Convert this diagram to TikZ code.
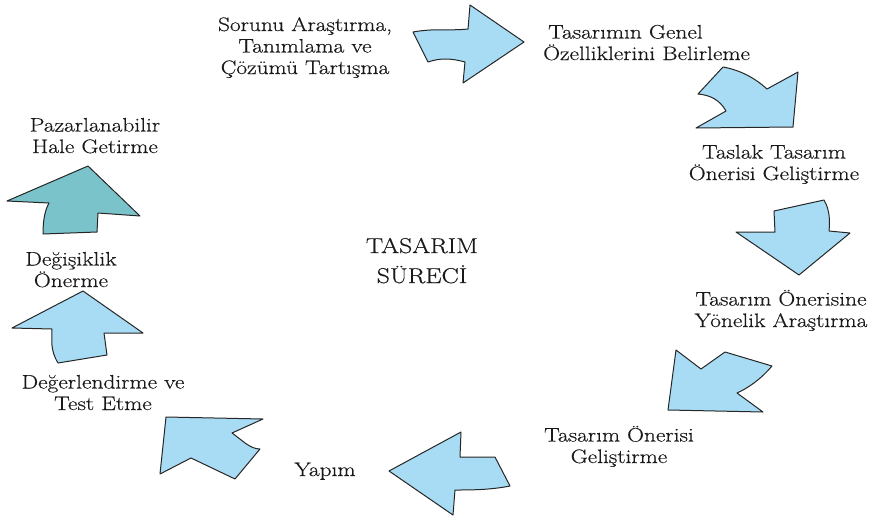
\documentclass[tikz,border=0pt]{standalone}
\usepackage{fontspec}
\newfontfamily\lblfont{Latin Modern Roman}[FakeStretch=1.2,FakeBold=0.4]
\begin{document}
\begin{tikzpicture}[x=1pt,y=-1pt,
  arr/.style={draw=black!85,line width=1pt,line join=round,fill=arrowblue},
  lbl/.style={inner sep=0pt,anchor=base,align=center,text=black!90,font=\lblfont\fontsize{19.5}{21.5}\selectfont},
  lbll/.style={lbl,align=left,anchor=base west}]
\definecolor{arrowblue}{HTML}{A8DBF4}
\definecolor{arrowteal}{HTML}{7BC3CB}
\useasboundingbox (0,0) rectangle (876,520);
% arrows
\draw[arr] (413,32) .. controls (435,28) and (450,31) .. (468,29) -- (470,5) -- (524,42) -- (463,83) -- (465,62) .. controls (450,58) and (440,58) .. (428,62) -- cycle;
\draw[arr] (723,67) .. controls (740,70) and (755,78) .. (767,89) -- (798,72) -- (793,127) -- (696,128) -- (726,111) .. controls (720,100) and (710,95) .. (698,94) -- cycle;
\draw[arr] (774,211) -- (824,200) .. controls (830,210) and (830,222) .. (829,231) -- (850,233) -- (799,275) -- (736,232) -- (775,232) -- cycle;
\draw[arr] (676,350) -- (701,369) -- (725,352) -- (772,366) .. controls (760,380) and (748,388) .. (737,393) -- (763,412) -- (668,410) -- cycle;
\draw[arr] (389,471) -- (461,432) -- (460,457) -- (495,457) -- (510,486) .. controls (490,490) and (470,490) .. (455,490) -- (453,515) -- cycle;
\draw[arr] (166,417) -- (263,419) -- (232,433) .. controls (242,440) and (250,449) .. (260,449) -- (235,479) -- (191,458) -- (160,474) -- cycle;
\draw[arr] (12,328) -- (83,291) -- (143,333) -- (104,333) -- (107,355) -- (58,363) .. controls (50,350) and (52,340) .. (52,329) -- cycle;
\draw[arr,fill=arrowteal] (7,201) -- (88,166) -- (140,216) -- (98,213) -- (97,232) -- (43,234) .. controls (43,220) and (45,210) .. (49,203) -- cycle;
% labels (anchor = baseline of last line)
\node[lbl] (t1) at (305,74) {Sorunu Araştırma,\\Tanımlama ve\\Çözümü Tartışma};
\node[lbll] (t2) at (543,60) {\hspace*{5pt}Tasarımın Genel\\Özelliklerini Belirleme};
\node[lbl] (t3) at (774,180) {Taslak Tasarım\\Önerisi Geliştirme};
\node[lbl] (t4) at (781,327) {Tasarım Önerisine\\Yönelik Araştırma};
\node[lbl] (t5) at (619,463) {Tasarım Önerisi\\Geliştirme};
\node[lbl] (t6) at (325,476) {Yapım};
\node[lbl] (t7) at (103,410) {Değerlendirme ve\\Test Etme};
\node[lbl] (t8) at (71,287) {Değişiklik\\Önerme};
\node[lbl] (t9) at (95,153) {Pazarlanabilir\\Hale Getirme};
\node[lbl,font=\lblfont\fontsize{21.5}{30}\selectfont] (c) at (422,283) {TASARIM\\SÜRECİ};
\end{tikzpicture}
\end{document}
